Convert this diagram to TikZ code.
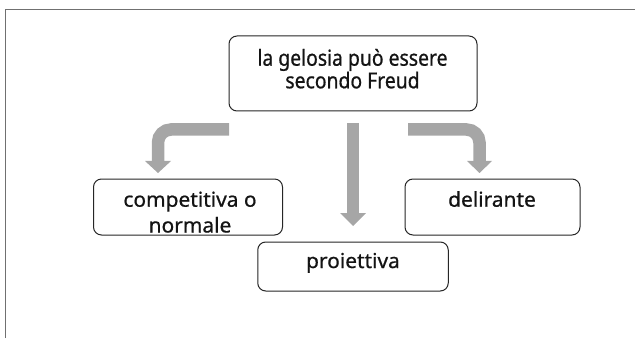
\documentclass[tikz,border=0pt]{standalone}
\usepackage{fontspec}
\setmainfont{Noto Sans}[FakeBold=0.7]
\newfontfamily\topfont{Noto Sans}[FakeStretch=0.88,FakeBold=0.7]
\newfontfamily\smallfont{Noto Sans}[FakeStretch=1.02,FakeBold=0.7]
\begin{document}
\begin{tikzpicture}[x=1pt,y=1pt,
  box/.style={draw=black!85, line width=1pt, rounded corners=8pt, fill=white, inner sep=0pt},
  txt/.style={align=center, font=\smallfont\bfseries\fontsize{20.5}{25.8}\selectfont, text=black!92, inner sep=0pt},
  toptxt/.style={align=center, font=\topfont\bfseries\fontsize{22}{22.6}\selectfont, text=black!92, inner sep=0pt},
  flow/.style={draw=arrowgray, line width=12.5pt, rounded corners=13pt},
  head/.style={fill=arrowgray, draw=none}]
\definecolor{arrowgray}{HTML}{A6A6A6}
\definecolor{framegray}{HTML}{707070}
\useasboundingbox (0,0) rectangle (635,338);
% frame
\coordinate (fb) at (5.5,0);
\coordinate (fc) at (5.5,328.5);
\coordinate (fr) at (635,328.5);
\draw[framegray, line width=1.5pt] (fb) -- (fc) -- (fr);
% boxes
\node[box, minimum width=248pt, minimum height=75pt] (top) at (353,264.5) {};
\node[toptxt, anchor=base] (toptext) at (352.5,249.7) {la gelosia può essere\\secondo Freud};
\node[box, minimum width=189pt, minimum height=56pt] (comp) at (188,131) {};
\node[txt, anchor=base] (comptxt) at (190,105.5) {competitiva o\\normale};
\node[box, minimum width=175pt, minimum height=56pt] (deli) at (492.5,131) {};
\node[txt, anchor=base] (delitxt) at (492,131.3) {delirante};
\node[box, minimum width=190.5pt, minimum height=49pt] (proi) at (353,71.5) {};
\node[txt, anchor=base] (proitxt) at (353,70) {proiettiva};
% arrows
\coordinate (ls) at (229,208.5);
\coordinate (lc) at (158,208.5);
\coordinate (le) at (158,176.5);
\draw[flow] (ls) -- (lc) -- (le);
\fill[head] (145,177) -- (171,177) -- (158,165) -- cycle;
\coordinate (cs) at (353,215);
\coordinate (ce) at (353,124.5);
\draw[flow] (cs) -- (ce);
\fill[head] (340,125) -- (366,125) -- (353,112) -- cycle;
\coordinate (rs) at (408,208.5);
\coordinate (rc) at (479.5,208.5);
\coordinate (re) at (479.5,176.5);
\draw[flow] (rs) -- (rc) -- (re);
\fill[head] (467,177) -- (492,177) -- (479.5,165) -- cycle;
\end{tikzpicture}
\end{document}
